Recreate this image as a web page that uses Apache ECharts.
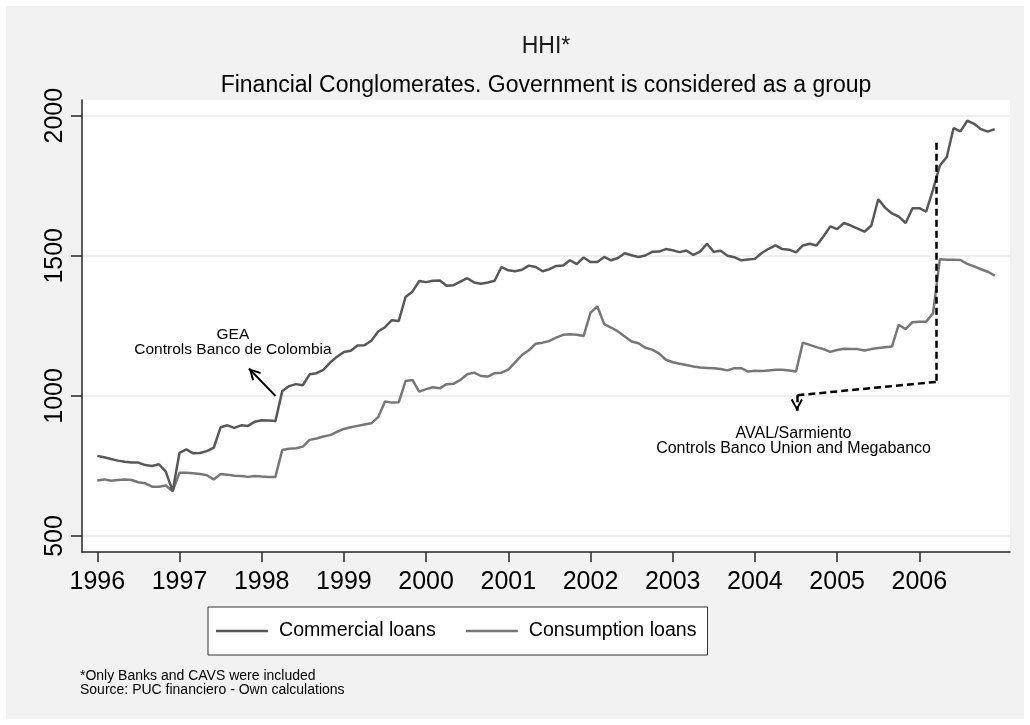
<!DOCTYPE html>
<html>
<head>
<meta charset="utf-8">
<title>HHI* - Financial Conglomerates</title>
<script src="https://cdn.jsdelivr.net/npm/echarts@6/dist/echarts.min.js"></script>
<style>
  html, body { margin: 0; padding: 0; background: #ffffff; }
  #frame { position: absolute; left: 6px; top: 6px; width: 1018px; height: 713px; background: #f2f2f2; }
  #chart { position: absolute; left: 0; top: 0; width: 1030px; height: 725px; }
</style>
</head>
<body>
<div id="frame"></div>
<div id="chart"></div>
<script>
// Monthly HHI, January 1996 to December 2006 (one row per year)
const startYear = 1996;
const yearTicks = [1996, 1997, 1998, 1999, 2000, 2001, 2002, 2003, 2004, 2005, 2006];
const valueTicks = [500, 1000, 1500, 2000];
const seriesNames = ['Commercial loans', 'Consumption loans'];

const commercial = [
  786, 781, 775, 769, 765, 762, 762, 753, 750, 756, 730, 660,
  797, 809, 795, 796, 803, 815, 888, 895, 886, 895, 893, 908,
  913, 912, 910, 1017, 1035, 1042, 1038, 1077, 1081, 1093, 1119, 1140,
  1157, 1161, 1180, 1181, 1197, 1230, 1245, 1270, 1267, 1353, 1372, 1410,
  1406, 1411, 1412, 1393, 1395, 1408, 1420, 1405, 1400, 1405, 1411, 1460,
  1448, 1445, 1450, 1465, 1460, 1445, 1452, 1464, 1465, 1484, 1470, 1494,
  1478, 1478, 1496, 1484, 1492, 1509, 1502, 1496, 1501, 1514, 1515, 1524,
  1520, 1513, 1519, 1503, 1515, 1543, 1514, 1518, 1500, 1495, 1484, 1487,
  1489, 1510, 1525, 1537, 1524, 1522, 1512, 1537, 1543, 1537, 1569, 1605,
  1595, 1617, 1608, 1597, 1586, 1608, 1702, 1672, 1651, 1640, 1617, 1670,
  1670, 1658, 1736, 1822, 1852, 1956, 1944, 1982, 1971, 1952, 1943, 1952
];

const consumption = [
  698, 702, 697, 700, 702, 700, 692, 688, 676, 676, 680, 660,
  726, 726, 724, 721, 717, 702, 721, 719, 715, 714, 711, 714,
  712, 711, 711, 807, 811, 813, 819, 843, 848, 855, 860, 872,
  882, 888, 893, 898, 902, 924, 980, 976, 977, 1053, 1057, 1015,
  1024, 1031, 1027, 1042, 1043, 1057, 1077, 1083, 1071, 1069, 1081, 1083,
  1094, 1120, 1146, 1163, 1186, 1190, 1196, 1208, 1218, 1220, 1218, 1214,
  1297, 1319, 1256, 1244, 1230, 1212, 1194, 1188, 1172, 1165, 1152, 1129,
  1120, 1115, 1110, 1105, 1101, 1100, 1099, 1096, 1091, 1099, 1099, 1087,
  1090, 1089, 1091, 1093, 1093, 1091, 1087, 1190, 1182, 1174, 1167, 1157,
  1164, 1168, 1167, 1167, 1162, 1167, 1171, 1174, 1176, 1254, 1238, 1263,
  1265, 1265, 1295, 1488, 1486, 1486, 1485, 1471, 1462, 1452, 1443, 1429
];

const FONT = '"Liberation Sans", Arial, Helvetica, sans-serif';
const COMMERCIAL_COLOR = '#585858';
const CONSUMPTION_COLOR = '#777777';
const AXIS_COLOR = '#262626';

// open "V" arrowhead, tip at the centre of the symbol box
const OPEN_ARROW = 'path://M5,5 L10,14 L8.6,15 L5,8 L1.4,15 L0,14 Z M5,-5 L5,-5';

// x position of each monthly observation in fractional years
const monthTime = i => startYear + i / 12;
const toPoints = values => values.map((v, i) => [monthTime(i), v]);

const chart = echarts.init(document.getElementById('chart'), null, { renderer: 'canvas' });

const option = {
  animation: false,
  backgroundColor: 'transparent',
  textStyle: { fontFamily: FONT },
  title: [
    {
      text: 'HHI*',
      left: 546, top: 35, textAlign: 'center', padding: 0,
      textStyle: { fontFamily: FONT, fontSize: 23, fontWeight: 'normal', color: '#1a1a1a' }
    },
    {
      text: 'Financial Conglomerates. Government is considered as a group',
      left: 546, top: 74, textAlign: 'center', padding: 0,
      textStyle: { fontFamily: FONT, fontSize: 23, fontWeight: 'normal', color: '#000' }
    },
    {
      text: '*Only Banks and CAVS were included\nSource: PUC financiero - Own calculations',
      left: 80, top: 669, padding: 0,
      textStyle: { fontFamily: FONT, fontSize: 14, lineHeight: 14, fontWeight: 'normal', color: '#000' }
    }
  ],
  grid: {
    left: 82, top: 100, width: 928, height: 452,
    show: true, backgroundColor: '#ffffff', borderWidth: 0,
    containLabel: false, outerBoundsMode: 'none'
  },
  legend: {
    data: seriesNames,
    left: 208, top: 607,
    orient: 'horizontal',
    padding: [14, 11, 14, 8],
    itemGap: 30,
    itemWidth: 52,
    itemHeight: 2.5,
    icon: 'rect',
    backgroundColor: '#ffffff',
    borderColor: '#333333',
    borderWidth: 1,
    borderRadius: 0,
    selectedMode: false,
    textStyle: { fontFamily: FONT, fontSize: 19.6, lineHeight: 20, color: '#000', padding: [0, 0, 0, 6] }
  },
  xAxis: {
    type: 'value',
    min: 1995.814,
    max: 2007.103,
    axisLine: { show: true, onZero: false, lineStyle: { color: AXIS_COLOR, width: 1.5 } },
    axisTick: { show: true, inside: false, length: 10, customValues: yearTicks, lineStyle: { color: AXIS_COLOR, width: 1.5 } },
    axisLabel: {
      show: true, customValues: yearTicks, margin: 18,
      fontFamily: FONT, fontSize: 25, color: '#000',
      formatter: v => String(Math.round(v))
    },
    splitLine: { show: false }
  },
  yAxis: {
    type: 'value',
    min: 442.9,
    max: 2056,
    axisLine: { show: true, onZero: false, lineStyle: { color: AXIS_COLOR, width: 1.5 } },
    axisTick: { show: true, inside: false, length: 11, customValues: valueTicks, lineStyle: { color: AXIS_COLOR, width: 1.5 } },
    axisLabel: {
      show: true, customValues: valueTicks, rotate: 90, margin: 14,
      fontFamily: FONT, fontSize: 25, color: '#000',
      formatter: v => String(Math.round(v))
    },
    splitLine: { show: true, lineStyle: { color: '#efefef', width: 2 } }
  },
  series: [
    {
      name: seriesNames[0],
      type: 'line',
      data: toPoints(commercial),
      symbol: 'none',
      showSymbol: false,
      z: 4,
      lineStyle: { color: COMMERCIAL_COLOR, width: 2.5 },
      itemStyle: { color: COMMERCIAL_COLOR },
      emphasis: { disabled: true },
      markLine: {
        silent: true,
        symbol: ['none', 'none'],
        label: { show: false },
        emphasis: { disabled: true },
        lineStyle: { color: '#000', width: 2, type: 'solid' },
        data: [
          [
            { coord: [1998.167, 1000] },
            { coord: [1997.845, 1098], symbol: OPEN_ARROW, symbolSize: [12, 24] }
          ]
        ]
      },
      markPoint: {
        silent: true,
        symbol: 'rect',
        symbolSize: 1,
        itemStyle: { color: 'rgba(0,0,0,0)' },
        label: {
          show: true, position: 'inside', align: 'center', verticalAlign: 'middle',
          fontFamily: FONT, fontSize: 15.5, lineHeight: 15, color: '#000'
        },
        data: [
          { coord: [1997.65, 1192], value: 0, label: { formatter: 'GEA\nControls Banco de Colombia' } }
        ]
      }
    },
    {
      name: seriesNames[1],
      type: 'line',
      data: toPoints(consumption),
      symbol: 'none',
      showSymbol: false,
      z: 3,
      lineStyle: { color: CONSUMPTION_COLOR, width: 2.5 },
      itemStyle: { color: CONSUMPTION_COLOR },
      emphasis: { disabled: true },
      markLine: {
        silent: true,
        symbol: ['none', 'none'],
        label: { show: false },
        emphasis: { disabled: true },
        lineStyle: { color: '#000', width: 2.5, type: [7, 4] },
        data: [
          [{ coord: [2006.2, 1903] }, { coord: [2006.2, 1050] }],
          [{ coord: [2006.2, 1050] }, { coord: [2004.51, 1002] }],
          [
            { coord: [2004.51, 1002] },
            { coord: [2004.51, 947], symbol: OPEN_ARROW, symbolSize: [12, 24] }
          ]
        ]
      },
      markPoint: {
        silent: true,
        symbol: 'rect',
        symbolSize: 1,
        itemStyle: { color: 'rgba(0,0,0,0)' },
        label: {
          show: true, position: 'inside', align: 'center', verticalAlign: 'middle',
          fontFamily: FONT, fontSize: 16, lineHeight: 15, color: '#000'
        },
        data: [
          { coord: [2004.47, 840], value: 0, label: { formatter: 'AVAL/Sarmiento\nControls Banco Union and Megabanco' } }
        ]
      }
    }
  ]
};

chart.setOption(option);
</script>
</body>
</html>
